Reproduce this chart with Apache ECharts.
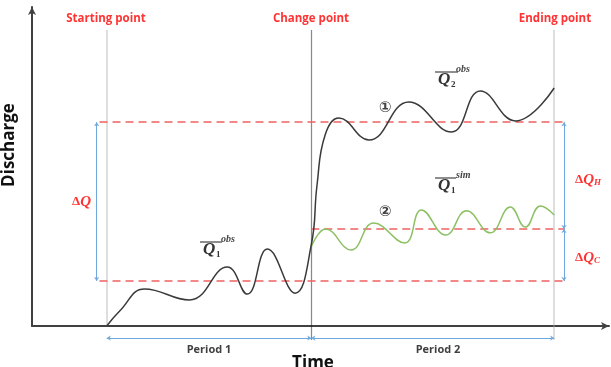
<!DOCTYPE html>
<html>
<head>
<meta charset="utf-8">
<script src="https://cdn.jsdelivr.net/npm/echarts@6/dist/echarts.min.js"></script>
<style>html,body{margin:0;padding:0;background:#fff}#c{width:611px;height:367px}</style>
</head>
<body>
<div id="c"></div>
<script>
// Observed discharge (time, discharge) in relative units 0-100
var obsTime = [12.95, 15.2, 19.5, 27.3, 33.85, 37.3, 40.8, 45.6, 48.4, 49.4, 50.8, 53.2, 58.4, 65.3, 72.7, 77.7, 83.8, 90.5];
var obsQ    = [0, 4.7, 11.6, 8.15, 18.5, 10.0, 24.1, 10.3, 25.4, 44.2, 59.9, 65.2, 58.3, 70.2, 60.8, 73.7, 64.3, 74.6];
// Simulated discharge for period 2
var simTime = [48.4, 50.9, 55.3, 59.2, 64.6, 67.5, 71.7, 75.3, 79.4, 82.9, 85.5, 88.1, 90.5];
var simQ    = [24.8, 30.4, 23.8, 32.3, 26.0, 36.4, 28.5, 36.1, 29.2, 37.3, 31.0, 37.6, 34.8];
// Event times
var startT = 12.95, changeT = 48.4, endT = 90.5;
// Mean levels
var meanQ1obs = 14.1, meanQ1sim = 30.4, meanQ2obs = 63.9;
// Event labels
var eventLabels = ['Starting point', 'Change point', 'Ending point'];
var periodLabels = ['Period 1', 'Period 2'];

function zip(a, b) { return a.map(function (v, i) { return [v, b[i]]; }); }

var dashL = 11.7, dashR = 92.2, arrowL = 11.2, topQ = 92.8, lowQ = -4.4, periodQ = -3.8;
var red = '#ff3333', dashRed = '#f06262', blue = '#6fa8dc';

var chart = echarts.init(document.getElementById('c'), null, {renderer: 'canvas'});

var serif = '"Liberation Serif", "DejaVu Serif", serif';
var sans = '"Open Sans", "Liberation Sans", Arial, sans-serif';

function qLabel(x, y, sub, sup, barW) {
  return [
    {type: 'line', shape: {x1: x - 3, y1: y - 8, x2: x - 3 + barW, y2: y - 8}, style: {stroke: '#444', lineWidth: 1.2}, silent: true},
    {type: 'text', x: x, y: y, style: {text: 'Q', font: 'bold italic 17px ' + serif, fill: '#333', textVerticalAlign: 'middle'}},
    {type: 'text', x: x + 13, y: y + 5, style: {text: sub, font: 'bold 9px ' + serif, fill: '#333', textVerticalAlign: 'middle'}},
    {type: 'text', x: x + 18, y: y - 11, style: {text: sup, font: 'bold italic 10px ' + serif, fill: '#444', textVerticalAlign: 'middle'}}
  ];
}

var graphics = [
  {type: 'text', x: 106, y: 19, style: {text: eventLabels[0], font: 'bold 11.5px ' + sans, fill: red, textAlign: 'center', textVerticalAlign: 'middle'}},
  {type: 'text', x: 311, y: 19, style: {text: eventLabels[1], font: 'bold 11.5px ' + sans, fill: red, textAlign: 'center', textVerticalAlign: 'middle'}},
  {type: 'text', x: 555, y: 19, style: {text: eventLabels[2], font: 'bold 11.5px ' + sans, fill: red, textAlign: 'center', textVerticalAlign: 'middle'}},
  {type: 'text', x: 209, y: 350, style: {text: periodLabels[0], font: 'bold 11px ' + sans, fill: '#404040', textAlign: 'center', textVerticalAlign: 'middle'}},
  {type: 'text', x: 438, y: 350, style: {text: periodLabels[1], font: 'bold 11px ' + sans, fill: '#404040', textAlign: 'center', textVerticalAlign: 'middle'}},
  {type: 'text', x: 313, y: 355, style: {text: 'Time', font: 'bold 17px ' + sans, fill: '#111', textAlign: 'center', textVerticalAlign: 'top'}},
  {type: 'text', x: 9, y: 145, rotation: Math.PI / 2, style: {text: 'Discharge', font: 'bold 17px ' + sans, fill: '#111', textAlign: 'center', textVerticalAlign: 'middle'}},
  {type: 'text', x: 72, y: 202, style: {text: '{d|Δ}{q|Q}', rich: {d: {font: 'bold 13px ' + serif, fill: red}, q: {font: 'bold italic 15px ' + serif, fill: red}}, textVerticalAlign: 'middle'}},
  {type: 'text', x: 575, y: 180, style: {text: '{d|Δ}{q|Q}{s|H}', rich: {d: {font: 'bold 13px ' + serif, fill: red}, q: {font: 'bold italic 15px ' + serif, fill: red}, s: {font: 'bold italic 9px ' + serif, fill: red, verticalAlign: 'bottom', padding: [6, 0, 0, 0]}}, textVerticalAlign: 'middle'}},
  {type: 'text', x: 575, y: 258, style: {text: '{d|Δ}{q|Q}{s|C}', rich: {d: {font: 'bold 13px ' + serif, fill: red}, q: {font: 'bold italic 15px ' + serif, fill: red}, s: {font: 'bold italic 9px ' + serif, fill: red, verticalAlign: 'bottom', padding: [6, 0, 0, 0]}}, textVerticalAlign: 'middle'}},
  {type: 'text', x: 385, y: 108, style: {text: '①', font: 'bold 15px "DejaVu Sans", sans-serif', fill: '#444', textAlign: 'center', textVerticalAlign: 'middle'}},
  {type: 'text', x: 385, y: 212, style: {text: '②', font: 'bold 15px "DejaVu Sans", sans-serif', fill: '#444', textAlign: 'center', textVerticalAlign: 'middle'}}
].concat(qLabel(203, 250, '1', 'obs', 22), qLabel(438, 80, '2', 'obs', 23), qLabel(438, 186, '1', 'sim', 21));

var option = {
  animation: false,
  grid: {left: 32, right: 2, top: 7, bottom: 41},
  xAxis: {
    type: 'value', min: 0, max: 100,
    axisLine: {lineStyle: {color: '#404040', width: 2}, symbol: ['none', 'arrow'], symbolSize: [6, 8]},
    axisTick: {show: false}, axisLabel: {show: false}, splitLine: {show: false}
  },
  yAxis: {
    type: 'value', min: 0, max: 100,
    axisLine: {show: true, lineStyle: {color: '#404040', width: 2}, symbol: ['none', 'arrow'], symbolSize: [6, 8]},
    axisTick: {show: false}, axisLabel: {show: false}, splitLine: {show: false}
  },
  series: [
    {
      type: 'lines', coordinateSystem: 'cartesian2d', clip: false, z: 1, silent: true,
      data: [
        {coords: [[startT, 0], [startT, topQ]], lineStyle: {color: '#aaaaaa', width: 1.5}},
        {coords: [[changeT, lowQ], [changeT, topQ]], lineStyle: {color: '#111111', width: 1.2}},
        {coords: [[endT, lowQ], [endT, topQ]], lineStyle: {color: '#aaaaaa', width: 1.5}}
      ]
    },
    {
      type: 'lines', coordinateSystem: 'cartesian2d', clip: false, z: 2, silent: true,
      lineStyle: {color: dashRed, width: 1.5, type: [8, 5], opacity: 1},
      data: [
        {coords: [[dashL, meanQ2obs], [dashR, meanQ2obs]]},
        {coords: [[changeT, meanQ1sim], [dashR, meanQ1sim]]},
        {coords: [[dashL, meanQ1obs], [dashR, meanQ1obs]]}
      ]
    },
    {
      type: 'lines', coordinateSystem: 'cartesian2d', clip: false, z: 3, silent: true,
      symbol: ['arrow', 'arrow'], symbolSize: 4,
      lineStyle: {color: blue, width: 1, opacity: 1},
      data: [
        {coords: [[arrowL, meanQ2obs], [arrowL, meanQ1obs]]},
        {coords: [[dashR, meanQ2obs], [dashR, meanQ1sim]]},
        {coords: [[dashR, meanQ1sim], [dashR, meanQ1obs]]},
        {coords: [[startT, periodQ], [changeT, periodQ]]},
        {coords: [[changeT, periodQ], [endT, periodQ]]}
      ]
    },
    {
      type: 'line', data: zip(obsTime, obsQ), smooth: 0.45, showSymbol: false, z: 5,
      lineStyle: {color: '#3a3a3a', width: 1.5}
    },
    {
      type: 'line', data: zip(simTime, simQ), smooth: 0.45, showSymbol: false, z: 4,
      lineStyle: {color: '#8cc063', width: 1.5}
    }
  ],
  graphic: graphics
};
chart.setOption(option);
</script>
</body>
</html>
